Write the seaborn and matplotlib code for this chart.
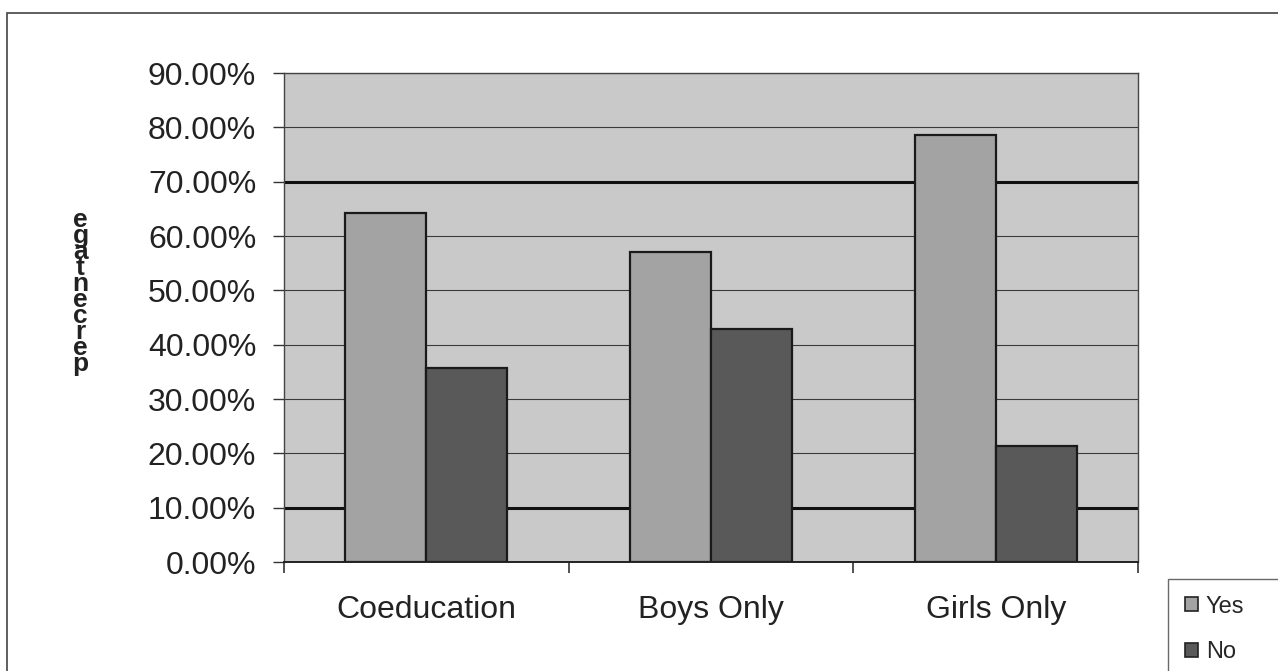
import matplotlib
matplotlib.use('Agg')
import numpy as np
import pandas as pd
import seaborn as sns
import matplotlib.pyplot as plt
from matplotlib.patches import Rectangle, Patch
from matplotlib.ticker import FuncFormatter, FixedLocator

# data
schools = ["Coeducation", "Boys Only", "Girls Only"]
yes_pct = [64.3, 57.1, 78.6]
no_pct = [35.7, 42.9, 21.4]
answers = ["Yes", "No"]

df = pd.DataFrame({
    "school": schools * 2,
    "answer": ["Yes"] * 3 + ["No"] * 3,
    "pct": yes_pct + no_pct,
})

sns.set_style("white")
plt.rcParams['font.family'] = ['Liberation Sans', 'DejaVu Sans']

fig = plt.figure(figsize=(12.78, 6.71), dpi=100)
ax = fig.add_axes([0.2222, 0.1624, 0.6683, 0.7288])
ax.set_facecolor("#c9c9c9")

pal = {"Yes": "#a3a3a3", "No": "#595959"}
sns.barplot(data=df, x="school", y="pct", hue="answer", hue_order=answers,
            palette=pal, width=0.57, edgecolor="#1a1a1a", linewidth=1.6,
            saturation=1, ax=ax, legend=False)

ax.set_ylim(0, 90)
ax.set_xlim(-0.5, 2.5)
ax.set_yticks(np.arange(0, 91, 10))
ax.yaxis.set_major_formatter(FuncFormatter(lambda v, p: "%.2f%%" % v))
ax.set_axisbelow(True)
ax.yaxis.grid(True, color="#3a3a3a", linewidth=0.8)
for v, gl in zip(np.arange(0, 91, 10), ax.get_ygridlines()):
    if v in (10, 70):
        gl.set_linewidth(2.2)
        gl.set_color("#111111")

ax.set_xlabel("")
ax.set_ylabel("")
ax.tick_params(axis="y", left=True, length=8, width=1, color="#333333",
               labelsize=23, pad=12, labelcolor="#222222")
ax.tick_params(axis="x", which="major", bottom=False, labelsize=23,
               pad=20, labelcolor="#222222")
ax.xaxis.set_minor_locator(FixedLocator([-0.5, 0.5, 1.5, 2.5]))
ax.tick_params(axis="x", which="minor", bottom=True, length=8, width=1.2,
               color="#333333")
for side, sp in ax.spines.items():
    sp.set_visible(True)
    sp.set_color("#444444")
    sp.set_linewidth(1)
ax.spines["bottom"].set_color("#222222")
ax.spines["bottom"].set_linewidth(1.4)

# stacked y label like in the scan
fig.text(0.063, 0.565, "\n".join("egatnecrep"), ha="center", va="center",
         fontsize=19, linespacing=0.58, color="#222222", fontweight="bold")

# outer chart border
fig.patches.append(Rectangle((0.0055, -0.01), 1.0, 0.99, transform=fig.transFigure,
                             fill=False, edgecolor="#444444", linewidth=1.2))

handles = [Patch(facecolor=pal[a], edgecolor="#222222", linewidth=1.2) for a in answers]
leg = fig.legend(handles, answers, loc="lower left",
                 bbox_to_anchor=(0.914, -0.013, 0.1, 0.15), mode="expand",
                 frameon=True, fancybox=False, fontsize=17, handlelength=0.55,
                 handleheight=0.55, handletextpad=0.35, labelspacing=1.0,
                 borderpad=0.7, borderaxespad=0.0)
leg.get_frame().set_edgecolor("#444444")
leg.get_frame().set_linewidth(1)

fig.savefig("out.png", dpi=100)
